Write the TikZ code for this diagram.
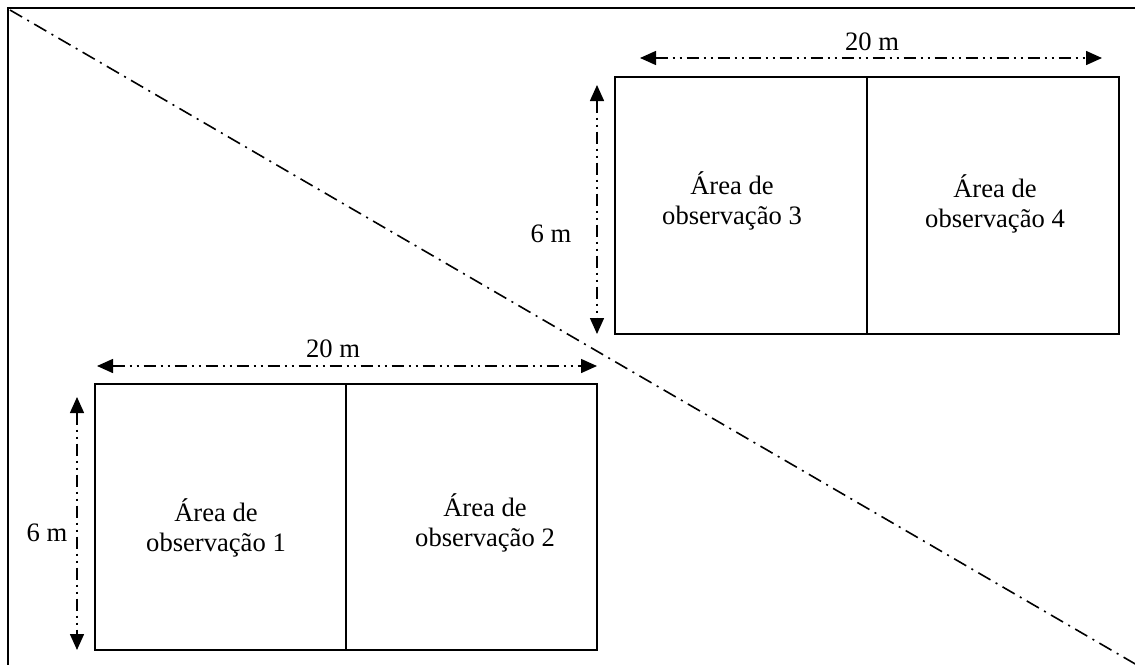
\documentclass[tikz,border=0pt]{standalone}
\usepackage{fontspec}
\setmainfont{Liberation Serif}
\usetikzlibrary{arrows.meta}
\begin{document}
\begin{tikzpicture}[x=1pt,y=-1pt,
  area/.style={draw,line width=1.5pt,inner sep=0pt},
  lbl/.style={align=center,font=\fontsize{26.6}{30}\selectfont,inner sep=0pt},
  dim/.style={font=\fontsize{26.6}{30}\selectfont,inner sep=0pt},
  dimline/.style={line width=1.5pt,dash pattern=on 12pt off 5pt on 2pt off 5pt on 2pt off 5pt,
    {Triangle[length=16pt,width=14pt]}-{Triangle[length=16pt,width=14pt]}},
  diag/.style={line width=1.6pt,dash pattern=on 14pt off 6pt on 2pt off 6pt}]
\useasboundingbox (0,0) rectangle (1135,664);
\clip (0,0) rectangle (1135,664);
% frame
\draw[line width=2pt] (8,700) -- (8,8) -- (1170,8);
% diagonal
\coordinate (d1) at (10,10);
\coordinate (d2) at (1137,665);
\draw[diag] (d1) -- (d2);
% top boxes
\node[area,minimum width=252pt,minimum height=257pt] (b3) at (741,205.5) {};
\node[area,minimum width=252pt,minimum height=257pt] (b4) at (993,205.5) {};
\node[lbl] (t3) at (732,201) {Área de\\observação 3};
\node[lbl] (t4) at (995,204) {Área de\\observação 4};
% bottom boxes
\node[area,minimum width=251pt,minimum height=266pt] (b1) at (220.5,517) {};
\node[area,minimum width=251pt,minimum height=266pt] (b2) at (471.5,517) {};
\node[lbl] (t1) at (216,528) {Área de\\observação 1};
\node[lbl] (t2) at (485,523) {Área de\\observação 2};
% dimension arrows top
\coordinate (h3a) at (640,58);
\coordinate (h3b) at (1102,58);
\draw[dimline] (h3a) -- (h3b);
\node[dim] (w3) at (872,42) {20 m};
\coordinate (v3a) at (597,85);
\coordinate (v3b) at (597,334);
\draw[dimline] (v3a) -- (v3b);
\node[dim] (h3) at (551,234) {6 m};
% dimension arrows bottom
\coordinate (h1a) at (97,366);
\coordinate (h1b) at (597,366);
\draw[dimline] (h1a) -- (h1b);
\node[dim] (w1) at (333,349) {20 m};
\coordinate (v1a) at (77,397);
\coordinate (v1b) at (77,650);
\draw[dimline] (v1a) -- (v1b);
\node[dim] (h1) at (47,533) {6 m};
\end{tikzpicture}
\end{document}
